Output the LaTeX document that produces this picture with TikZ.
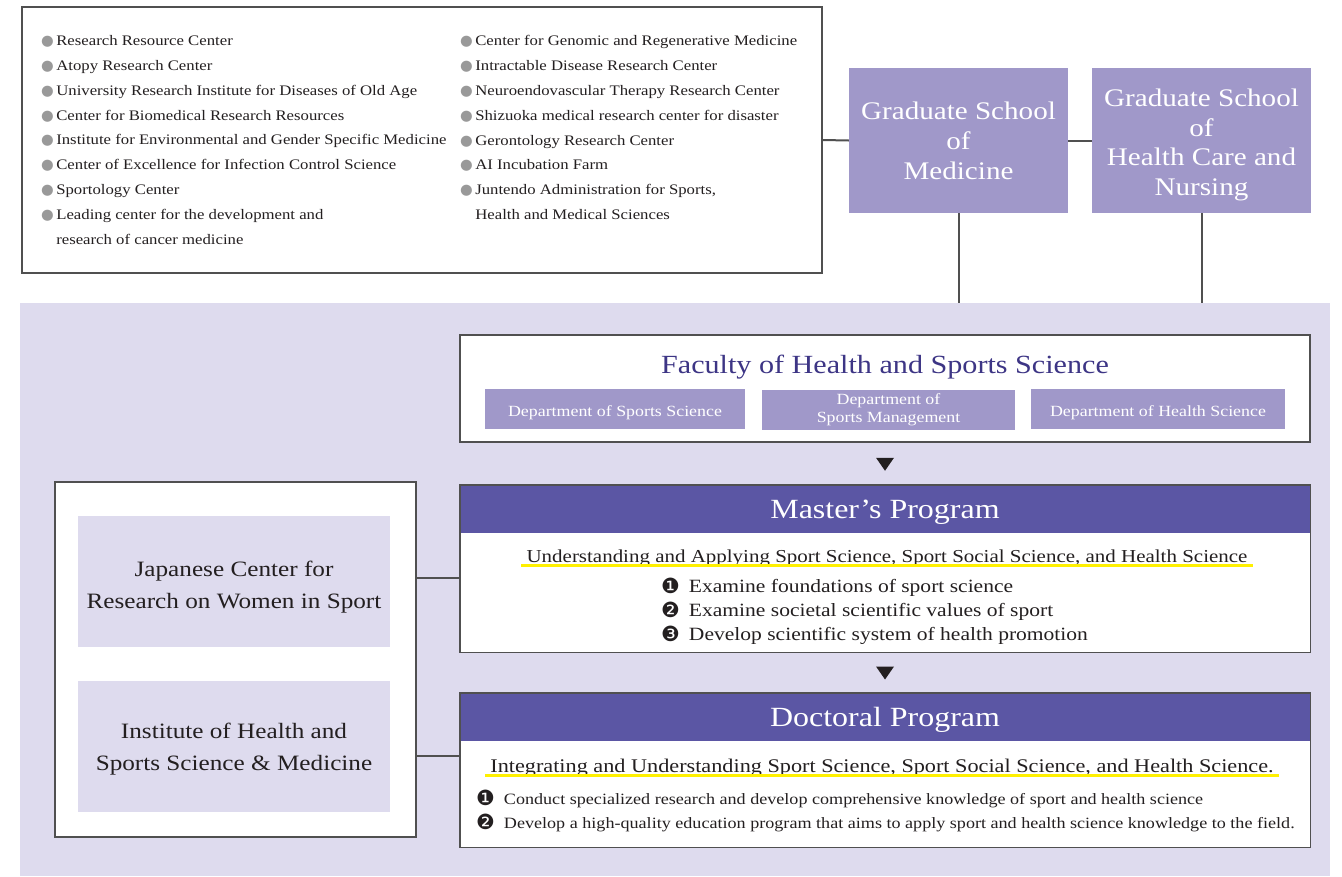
\documentclass[tikz,border=0pt]{standalone}
\usepackage{fontspec}
\setmainfont{Liberation Serif}[FakeStretch=1.15]
\newfontfamily\symfont{DejaVu Sans}
\usetikzlibrary{positioning}
\usetikzlibrary{calc}

\definecolor{lavbg}{HTML}{DEDBEE}
\definecolor{midpurple}{HTML}{A098C9}
\definecolor{darkpurple}{HTML}{5B56A4}
\definecolor{titlepurple}{HTML}{3D3585}
\definecolor{linegray}{HTML}{505050}
\definecolor{bulgray}{HTML}{999999}
\definecolor{txtdark}{HTML}{231F20}
\definecolor{hlyellow}{HTML}{FFF000}

\newcommand{\gbul}{\textcolor{bulgray}{\symfont ●}\,}
\newcommand{\nbul}[1]{\raisebox{-1bp}{\symfont\fontsize{21}{21}\selectfont #1}\hspace{9bp}}

\tikzset{
  conn/.style={draw=linegray, line width=2bp},
  boxline/.style={draw=linegray, line width=1.4bp},
  listtxt/.style={align=left, inner sep=0pt, text=txtdark, font=\fontsize{14.6}{25}\selectfont},
  gsbox/.style={fill=midpurple, inner sep=0pt, minimum width=219bp, minimum height=145bp},
  gstext/.style={text=white, align=center, inner sep=0pt, font=\fontsize{25.4}{30}\selectfont},
  deptbox/.style={fill=midpurple, text=white, align=center, inner sep=0pt,
    minimum height=40bp, font=\fontsize{15.6}{18}\selectfont},
  headbar/.style={fill=darkpurple, text=white, inner sep=0pt,
    minimum width=850bp, minimum height=48bp, text height=18.5bp, text depth=0bp,
    font=\fontsize{27.9}{30}\selectfont},
  theme/.style={text=txtdark, inner ysep=0pt, inner xsep=5bp},
  hl/.style={draw=hlyellow, line width=3.5bp},
  items/.style={align=left, inner sep=0pt, text=txtdark},
  tri/.style={fill=txtdark},
  centrebox/.style={fill=lavbg, inner sep=0pt, minimum width=312bp, minimum height=131bp},
  centretext/.style={text=txtdark, align=center, inner sep=0pt, font=\fontsize{22}{32}\selectfont}
}

\begin{document}
\begin{tikzpicture}[x=1bp,y=-1bp]
\useasboundingbox (0,0) rectangle (1342,876);

% lavender panel
\fill[lavbg] (20,303) rectangle (1330,876);
\coordinate (ptop) at (0,303);

% research centres
\node[boxline, fill=white, minimum width=800bp, minimum height=266bp] (centres) at (422,140) {};
\node[listtxt, anchor=north west] (leftlist) at (41,35) {%
  \gbul Research Resource Center\\
  \gbul Atopy Research Center\\
  \gbul University Research Institute for Diseases of Old Age\\
  \gbul Center for Biomedical Research Resources\\
  \gbul Institute for Environmental and Gender Specific Medicine\\
  \gbul Center of Excellence for Infection Control Science\\
  \gbul Sportology Center\\
  \gbul Leading center for the development and\\
  \hphantom{\gbul}research of cancer medicine};
\node[listtxt, anchor=north west] (rightlist) at (460,35) {%
  \gbul Center for Genomic and Regenerative Medicine\\
  \gbul Intractable Disease Research Center\\
  \gbul Neuroendovascular Therapy Research Center\\
  \gbul Shizuoka medical research center for disaster\\
  \gbul Gerontology Research Center\\
  \gbul AI Incubation Farm\\
  \gbul Juntendo Administration for Sports,\\
  \hphantom{\gbul}Health and Medical Sciences};

% graduate schools
\node[gsbox, label={[gstext]center:Graduate School\\of\\Medicine}] (gsm) at (958.5,140.5) {};
\node[gsbox, label={[gstext, yshift=-4.5bp]center:Graduate School\\of\\Health Care and\\Nursing}] (gshcn) at (1201.5,140.5) {};
\draw[conn] (centres.east) -- (gsm.west);
\draw[conn] (gsm.east) -- (gshcn.west);
\draw[conn] (gsm.south) -- (gsm.south |- ptop);
\draw[conn] (gshcn.south) -- (gshcn.south |- ptop);

% faculty
\node[boxline, fill=white, minimum width=850bp, minimum height=107bp] (fhss) at (885,388.5) {};
\node[text=titlepurple, font=\fontsize{26.3}{30}\selectfont] (fhsstitle) at (885,367) {Faculty of Health and Sports Science};
\node[deptbox, minimum width=260bp, text height=14bp, text depth=0bp] (dss) at (615,409) {Department of Sports Science};
\node[deptbox, minimum width=253bp] (dsm) at (888.5,410) {Department of\\Sports Management};
\node[deptbox, minimum width=254bp, text height=14bp, text depth=0bp] (dhs) at (1158,409) {Department of Health Science};

% master
\node[fill=white, minimum width=850bp, minimum height=167bp] (mprog) at (885,568.5) {};
\node[headbar, anchor=north] (mhead) at (mprog.north) {Master’s Program};
\draw[boxline] (mprog.north west) rectangle (mprog.south east);
\node[theme, font=\fontsize{18.3}{20}\selectfont] (mtheme) at (887,558) {Understanding and Applying Sport Science, Sport Social Science, and Health Science};
\draw[hl] ([yshift=-3bp]mtheme.base west) -- ([yshift=-3bp]mtheme.base east);
\node[items, anchor=north west, font=\fontsize{18.8}{24}\selectfont] (mitems) at (661,578) {%
  \nbul{❶}Examine foundations of sport science\\
  \nbul{❷}Examine societal scientific values of sport\\
  \nbul{❸}Develop scientific system of health promotion};

% doctoral
\node[fill=white, minimum width=850bp, minimum height=154bp] (dprog) at (885,770) {};
\node[headbar, anchor=north] (dhead) at (dprog.north) {Doctoral Program};
\draw[boxline] (dprog.north west) rectangle (dprog.south east);
\node[theme, font=\fontsize{19.4}{20}\selectfont] (dtheme) at (882,768) {Integrating and Understanding Sport Science, Sport Social Science, and Health Science.};
\draw[hl] ([yshift=-3bp]dtheme.base west) -- ([yshift=-3bp]dtheme.base east);
\node[items, anchor=north west, font=\fontsize{15.8}{24}\selectfont] (ditems) at (476,790) {%
  \nbul{❶}Conduct specialized research and develop comprehensive knowledge of sport and health science\\
  \nbul{❷}Develop a high-quality education program that aims to apply sport and health science knowledge to the field.};

% arrows
\fill[tri] ($(fhss.south)!0.5!(mprog.north)$) +(-9,-6) -- +(9,-6) -- +(0,7) -- cycle;
\fill[tri] ($(mprog.south)!0.5!(dprog.north)$) +(-9,-6) -- +(9,-6) -- +(0,7) -- cycle;

% affiliated institutes
\node[boxline, fill=white, minimum width=361bp, minimum height=355bp] (inst) at (235.5,659.5) {};
\node[centrebox, label={[centretext, yshift=-5.5bp]center:Japanese Center for\\Research on Women in Sport}] (jcrws) at (234,581.5) {};
\node[centrebox, label={[centretext, yshift=-3bp]center:Institute of Health and\\Sports Science \& Medicine}] (ihss) at (234,746.5) {};
\coordinate (mlink) at ($(mprog.north west)!0.557!(mprog.south west)$);
\coordinate (dlink) at ($(dprog.north west)!0.41!(dprog.south west)$);
\draw[conn] (mlink -| inst.east) -- (mlink);
\draw[conn] (dlink -| inst.east) -- (dlink);
\end{tikzpicture}
\end{document}
